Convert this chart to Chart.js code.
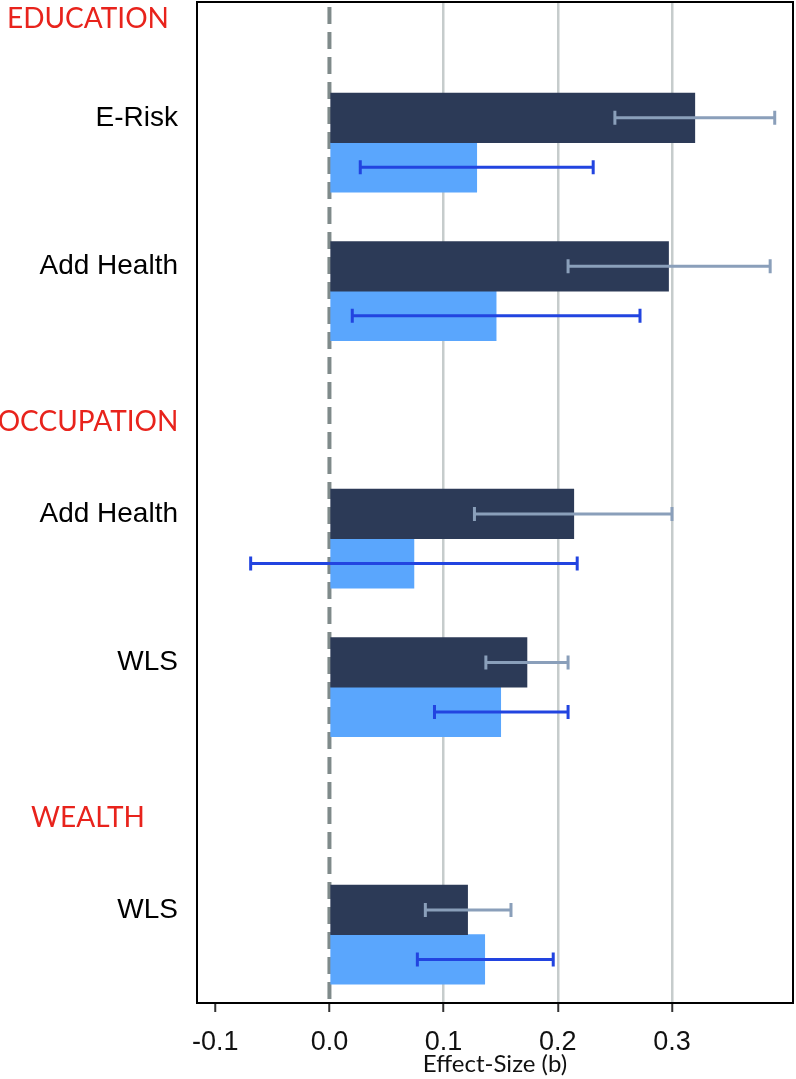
<!DOCTYPE html>
<html>
<head>
<meta charset="utf-8">
<title>Effect-Size (b)</title>
<script src="https://cdn.jsdelivr.net/npm/chart.js@4.4.1/dist/chart.umd.min.js"></script>
<style>
  body { margin: 0; background: #fff; }
  canvas { display: block; }
</style>
</head>
<body>
<canvas id="effectChart" width="796" height="1079"></canvas>
<script>
'use strict';

// cohort rows: dark bar sits on the row, light bar on the row below it
let cohorts = ['E-Risk', 'Add Health', 'Add Health', 'WLS', 'WLS'];
let cohortRows = [2, 5, 10, 13, 18];
let sections = ['EDUCATION', 'OCCUPATION', 'WEALTH'];
let sectionRows = [0, 8.15, 16.15];

let darkValues = [0.320, 0.297, 0.214, 0.173, 0.121];
let darkLow = [0.250, 0.209, 0.127, 0.137, 0.084];
let darkHigh = [0.390, 0.386, 0.300, 0.209, 0.159];

let lightValues = [0.129, 0.146, 0.074, 0.150, 0.136];
let lightLow = [0.027, 0.020, -0.069, 0.092, 0.077];
let lightHigh = [0.231, 0.272, 0.217, 0.209, 0.196];

let xTickValues = [-0.1, 0.0, 0.1, 0.2, 0.3];

let rowLabels = {};
for (let i = 0; i < cohorts.length; i++) {
  rowLabels[cohortRows[i]] = cohorts[i];
}

let darkData = [];
let lightData = [];
for (let i = 0; i < cohortRows.length; i++) {
  darkData.push({ x: darkValues[i], y: cohortRows[i] });
  lightData.push({ x: lightValues[i], y: cohortRows[i] + 1 });
}

// dashed line at zero, under the bars
const zeroLine = {
  id: 'zeroLine',
  beforeDatasetsDraw(chart) {
    let ctx = chart.ctx;
    let area = chart.chartArea;
    let x0 = chart.scales.x.getPixelForValue(0);
    ctx.save();
    ctx.strokeStyle = '#7f8a8a';
    ctx.lineWidth = 4;
    ctx.setLineDash([17, 8]);
    ctx.lineDashOffset = 20;
    ctx.beginPath();
    ctx.moveTo(x0, area.top);
    ctx.lineTo(x0, area.bottom);
    ctx.stroke();
    ctx.restore();
  }
};

const errorBars = {
  id: 'errorBars',
  afterDatasetsDraw(chart) {
    let ctx = chart.ctx;
    let xs = chart.scales.x;
    let ys = chart.scales.y;
    chart.data.datasets.forEach(function(ds) {
      ctx.save();
      ctx.strokeStyle = ds.errColor;
      ctx.lineWidth = 3;
      for (let i = 0; i < ds.data.length; i++) {
        let y = ys.getPixelForValue(ds.data[i].y);
        let a = xs.getPixelForValue(ds.errLow[i]);
        let b = xs.getPixelForValue(ds.errHigh[i]);
        ctx.beginPath();
        ctx.moveTo(a, y);
        ctx.lineTo(b, y);
        ctx.moveTo(a, y - 7);
        ctx.lineTo(a, y + 7);
        ctx.moveTo(b, y - 7);
        ctx.lineTo(b, y + 7);
        ctx.stroke();
      }
      ctx.restore();
    });
  }
};

const frameAndSections = {
  id: 'frameAndSections',
  afterDraw(chart) {
    let ctx = chart.ctx;
    let area = chart.chartArea;
    let ys = chart.scales.y;
    ctx.save();
    ctx.strokeStyle = '#000';
    ctx.lineWidth = 2;
    ctx.strokeRect(area.left, area.top, area.right - area.left, area.bottom - area.top);

    ctx.fillStyle = '#e8231c';
    ctx.font = '28px Lato';
    ctx.textAlign = 'center';
    ctx.textBaseline = 'middle';
    for (let i = 0; i < sections.length; i++) {
      ctx.fillText(sections[i], 88, ys.getPixelForValue(sectionRows[i]));
    }
    ctx.restore();
  }
};

const ctx = document.getElementById('effectChart');

new Chart(ctx, {
  type: 'bar',
  data: {
    datasets: [
      {
        label: 'Polygenic score',
        data: darkData,
        backgroundColor: '#2c3a57',
        borderWidth: 0,
        errLow: darkLow,
        errHigh: darkHigh,
        errColor: '#8a9fba',
      },
      {
        label: 'Within-family',
        data: lightData,
        backgroundColor: '#5aa6fd',
        borderWidth: 0,
        errLow: lightLow,
        errHigh: lightHigh,
        errColor: '#2244e0',
      },
    ],
  },
  options: {
    indexAxis: 'y',
    responsive: false,
    animation: false,
    grouped: false,
    barPercentage: 1,
    categoryPercentage: 1,
    layout: {
      padding: { top: 2, right: 3, left: 0, bottom: 0 },
    },
    plugins: {
      legend: { display: false },
      tooltip: { enabled: false },
    },
    scales: {
      x: {
        type: 'linear',
        min: -0.116,
        max: 0.406,
        border: { display: false },
        afterBuildTicks: function(scale) {
          scale.ticks = xTickValues.map(v => ({ value: v }));
        },
        afterFit: function(scale) {
          scale.height = 76;
          scale.paddingLeft = 0;
          scale.paddingRight = 0;
        },
        grid: {
          color: function(c) {
            return (c.tick && c.tick.value > 0.05) ? '#c6cccc' : 'rgba(0,0,0,0)';
          },
          lineWidth: 2.5,
          drawTicks: true,
          tickLength: 9,
          tickColor: '#333',
          tickWidth: 2,
        },
        ticks: {
          padding: 14,
          color: '#111',
          font: { family: 'Liberation Sans', size: 27 },
          callback: function(value) {
            return Number(value).toFixed(1);
          },
        },
        title: {
          display: true,
          text: 'Effect-Size (b)',
          color: '#111',
          font: { family: 'Lato', size: 24 },
          padding: { top: 0, bottom: 0 },
        },
      },
      y: {
        type: 'linear',
        reverse: true,
        offset: false,
        min: -0.34,
        max: 19.88,
        border: { display: false },
        grid: { display: false, drawTicks: false },
        afterFit: function(scale) {
          scale.width = 197;
          scale.paddingTop = 0;
          scale.paddingBottom = 0;
        },
        ticks: {
          stepSize: 1,
          includeBounds: false,
          autoSkip: false,
          padding: 19,
          color: '#000',
          font: { family: 'Liberation Sans', size: 28 },
          callback: function(value) {
            return rowLabels[value] || '';
          },
        },
      },
    },
  },
  plugins: [zeroLine, errorBars, frameAndSections],
});
</script>
</body>
</html>
